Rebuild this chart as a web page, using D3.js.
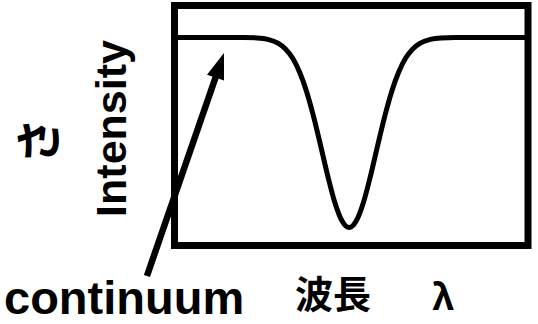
<!DOCTYPE html>
<html>
<head>
<meta charset="utf-8">
<script src="https://cdn.jsdelivr.net/npm/d3@7"></script>
<style>
  html, body { margin: 0; padding: 0; background: #fff; }
  svg { display: block; }
</style>
</head>
<body>
<svg id="chart" width="538" height="324"></svg>
<script>
// ---- data ----
const wavelength = [0, 10, 19.4, 23.4, 26.4, 29.4, 31.4, 33.4, 35.4, 37.4, 39.4, 41.4, 43.4, 45.4, 47.4,
  49.4, 51.4, 53.4, 55.4, 57.4, 59.4, 61.4, 63.4, 65.4, 67.4, 69.4, 72.4, 75.4, 79.4, 90, 100];
const intensity = [0.867, 0.867, 0.867, 0.865, 0.859, 0.842, 0.819, 0.781, 0.722, 0.640, 0.534, 0.412, 0.287, 0.177, 0.102,
  0.075, 0.102, 0.177, 0.287, 0.412, 0.534, 0.640, 0.722, 0.781, 0.819, 0.842, 0.859, 0.865, 0.867, 0.867, 0.867];
// annotation arrow (data coords): tail -> tip on continuum
const arrowFrom = [-7.8, -0.127];
const arrowTo = [14.0, 0.802];
const yLabel = "Intensity";
const yLabelJa = "さ";
const xLabelJa = "波長";
const xLabelSym = "λ";
const annotation = "continuum";

const svg = d3.select("#chart");
const frame = {left: 174.5, top: 5.5, right: 528, bottom: 245.5};

const x = d3.scaleLinear().domain([0, 100]).range([frame.left, frame.right]);
const y = d3.scaleLinear().domain([0, 1]).range([frame.bottom, frame.top]);

const pts = wavelength.map((w, i) => [w, intensity[i]]);

// spectrum line
svg.append("path")
  .datum(pts)
  .attr("fill", "none")
  .attr("stroke", "#000")
  .attr("stroke-width", 5)
  .attr("d", d3.line().x(d => x(d[0])).y(d => y(d[1])).curve(d3.curveMonotoneX));

// frame
svg.append("rect")
  .attr("x", x(0)).attr("y", y(1))
  .attr("width", x(100) - x(0)).attr("height", y(0) - y(1))
  .attr("fill", "none").attr("stroke", "#000").attr("stroke-width", 7);

// arrow
const x0 = x(arrowFrom[0]), y0 = y(arrowFrom[1]);
const x1 = x(arrowTo[0]), y1 = y(arrowTo[1]);
const dx = x1 - x0, dy = y1 - y0, L = Math.hypot(dx, dy);
const ux = dx / L, uy = dy / L, px = -uy, py = ux;
const headLen = 26, headW = 9;
const bx = x1 - ux * headLen, by = y1 - uy * headLen;
svg.append("line")
  .attr("x1", x0).attr("y1", y0).attr("x2", bx + ux * 2).attr("y2", by + uy * 2)
  .attr("stroke", "#000").attr("stroke-width", 6.5);
svg.append("path")
  .attr("d", `M${x1},${y1}L${bx + px * headW},${by + py * headW}L${bx - px * headW},${by - py * headW}Z`)
  .attr("fill", "#000");

// labels
svg.append("text")
  .attr("transform", "translate(126,128.5) rotate(-90)")
  .attr("text-anchor", "middle")
  .attr("font-family", "Liberation Sans, Arial, sans-serif")
  .attr("font-weight", "bold")
  .attr("font-size", 43)
  .text(yLabel);

svg.append("text")
  .attr("transform", "translate(35,141) rotate(-90)")
  .attr("text-anchor", "middle")
  .attr("dominant-baseline", "central")
  .attr("font-family", "Noto Sans CJK JP, sans-serif")
  .attr("font-weight", "bold")
  .attr("font-size", 46)
  .text(yLabelJa);

svg.append("text")
  .attr("x", 4).attr("y", 314)
  .attr("font-family", "Liberation Sans, Arial, sans-serif")
  .attr("font-weight", "bold")
  .attr("font-size", 47)
  .text(annotation);

svg.append("text")
  .attr("x", 295).attr("y", 308)
  .attr("font-family", "Noto Sans CJK JP, sans-serif")
  .attr("font-weight", "bold")
  .attr("font-size", 38)
  .text(xLabelJa);

svg.append("text")
  .attr("x", 432).attr("y", 310)
  .attr("font-family", "Noto Sans CJK JP, sans-serif")
  .attr("font-weight", "bold")
  .attr("font-size", 36)
  .text(xLabelSym);
</script>
</body>
</html>
